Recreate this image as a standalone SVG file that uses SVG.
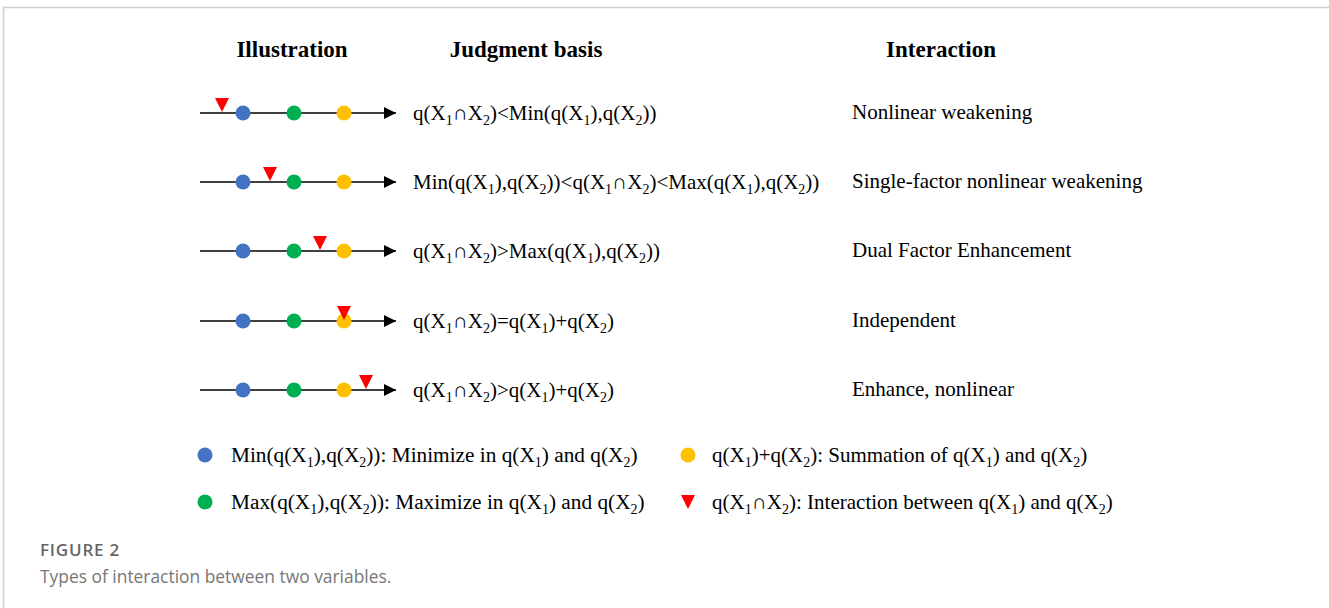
<svg xmlns="http://www.w3.org/2000/svg" width="1329" height="608" viewBox="0 0 1329 608">
<defs>
<marker id="arr" viewBox="0 0 12 12" refX="12" refY="6" markerWidth="12" markerHeight="12" markerUnits="userSpaceOnUse" orient="auto">
<path d="M0,0 L12,6 L0,12 Z" fill="#000"/>
</marker>
<polygon id="tri" points="-7,-14 7,-14 0,0" fill="#FF0000"/>
</defs>
<style>
.t{font-family:"Liberation Serif","Times New Roman",serif;font-size:21px;fill:#000}
.l{font-size:21.3px}
.h{font-family:"Liberation Serif","Times New Roman",serif;font-size:23px;font-weight:bold;fill:#000}
.s{font-size:14px}
.axis{stroke:#000;stroke-width:1.5;fill:none}
.b{fill:#4472C4}.g{fill:#00B050}.y{fill:#FFC000}
.cap1{font-family:"Open Sans","Lato",sans-serif;font-size:17px;font-weight:600;fill:#666;letter-spacing:0.8px}
.cap2{font-family:"Open Sans","Lato",sans-serif;font-size:17.4px;fill:#777}
</style>
<rect width="1329" height="608" fill="#fff"/>
<path d="M3.5,608 V7.5 H1329" fill="none" stroke="#d0d0d0" stroke-width="1.5"/>

<g id="headers">
<text class="h" x="292" y="57" text-anchor="middle">Illustration</text>
<text class="h" x="526" y="57" text-anchor="middle">Judgment basis</text>
<text class="h" x="941" y="57" text-anchor="middle">Interaction</text>
</g>

<g id="connectors">
<line class="axis" x1="200" y1="113" x2="396" y2="113" marker-end="url(#arr)"/>
<line class="axis" x1="200" y1="182" x2="396" y2="182" marker-end="url(#arr)"/>
<line class="axis" x1="200" y1="251" x2="396" y2="251" marker-end="url(#arr)"/>
<line class="axis" x1="200" y1="321" x2="396" y2="321" marker-end="url(#arr)"/>
<line class="axis" x1="200" y1="390" x2="396" y2="390" marker-end="url(#arr)"/>
</g>

<g id="row1">
<circle class="b" cx="243" cy="113" r="7.5"/><circle class="g" cx="294" cy="113" r="7.5"/><circle class="y" cx="344" cy="113" r="7.5"/>
<use href="#tri" x="222" y="112"/>
<text class="t" x="413" y="120">q(X<tspan class="s" dy="5">1</tspan><tspan dy="-5">∩X</tspan><tspan class="s" dy="5">2</tspan><tspan dy="-5">)&lt;Min(q(X</tspan><tspan class="s" dy="5">1</tspan><tspan dy="-5">),q(X</tspan><tspan class="s" dy="5">2</tspan><tspan dy="-5">))</tspan></text>
<text class="t" x="852" y="119">Nonlinear weakening</text>
</g>

<g id="row2">
<circle class="b" cx="243" cy="182" r="7.5"/><circle class="g" cx="294" cy="182" r="7.5"/><circle class="y" cx="344" cy="182" r="7.5"/>
<use href="#tri" x="270" y="181"/>
<text class="t" x="413" y="189">Min(q(X<tspan class="s" dy="5">1</tspan><tspan dy="-5">),q(X</tspan><tspan class="s" dy="5">2</tspan><tspan dy="-5">))&lt;q(X</tspan><tspan class="s" dy="5">1</tspan><tspan dy="-5">∩X</tspan><tspan class="s" dy="5">2</tspan><tspan dy="-5">)&lt;Max(q(X</tspan><tspan class="s" dy="5">1</tspan><tspan dy="-5">),q(X</tspan><tspan class="s" dy="5">2</tspan><tspan dy="-5">))</tspan></text>
<text class="t" x="852" y="188">Single-factor nonlinear weakening</text>
</g>

<g id="row3">
<circle class="b" cx="243" cy="251" r="7.5"/><circle class="g" cx="294" cy="251" r="7.5"/><circle class="y" cx="344" cy="251" r="7.5"/>
<use href="#tri" x="320" y="250"/>
<text class="t" x="413" y="258">q(X<tspan class="s" dy="5">1</tspan><tspan dy="-5">∩X</tspan><tspan class="s" dy="5">2</tspan><tspan dy="-5">)&gt;Max(q(X</tspan><tspan class="s" dy="5">1</tspan><tspan dy="-5">),q(X</tspan><tspan class="s" dy="5">2</tspan><tspan dy="-5">))</tspan></text>
<text class="t" x="852" y="257">Dual Factor Enhancement</text>
</g>

<g id="row4">
<circle class="b" cx="243" cy="321" r="7.5"/><circle class="g" cx="294" cy="321" r="7.5"/><circle class="y" cx="344" cy="321" r="7.5"/>
<use href="#tri" x="344" y="320"/>
<text class="t" x="413" y="328">q(X<tspan class="s" dy="5">1</tspan><tspan dy="-5">∩X</tspan><tspan class="s" dy="5">2</tspan><tspan dy="-5">)=q(X</tspan><tspan class="s" dy="5">1</tspan><tspan dy="-5">)+q(X</tspan><tspan class="s" dy="5">2</tspan><tspan dy="-5">)</tspan></text>
<text class="t" x="852" y="327">Independent</text>
</g>

<g id="row5">
<circle class="b" cx="243" cy="390" r="7.5"/><circle class="g" cx="294" cy="390" r="7.5"/><circle class="y" cx="344" cy="390" r="7.5"/>
<use href="#tri" x="366" y="389"/>
<text class="t" x="413" y="397">q(X<tspan class="s" dy="5">1</tspan><tspan dy="-5">∩X</tspan><tspan class="s" dy="5">2</tspan><tspan dy="-5">)&gt;q(X</tspan><tspan class="s" dy="5">1</tspan><tspan dy="-5">)+q(X</tspan><tspan class="s" dy="5">2</tspan><tspan dy="-5">)</tspan></text>
<text class="t" x="852" y="396">Enhance, nonlinear</text>
</g>

<g id="legend-min">
<circle class="b" cx="205" cy="455" r="7.5"/>
<text class="t l" x="231" y="462">Min(q(X<tspan class="s" dy="5">1</tspan><tspan dy="-5">),q(X</tspan><tspan class="s" dy="5">2</tspan><tspan dy="-5">)): Minimize in q(X</tspan><tspan class="s" dy="5">1</tspan><tspan dy="-5">) and q(X</tspan><tspan class="s" dy="5">2</tspan><tspan dy="-5">)</tspan></text>
</g>
<g id="legend-max">
<circle class="g" cx="205" cy="502" r="7.5"/>
<text class="t l" x="231" y="509">Max(q(X<tspan class="s" dy="5">1</tspan><tspan dy="-5">),q(X</tspan><tspan class="s" dy="5">2</tspan><tspan dy="-5">)): Maximize in q(X</tspan><tspan class="s" dy="5">1</tspan><tspan dy="-5">) and q(X</tspan><tspan class="s" dy="5">2</tspan><tspan dy="-5">)</tspan></text>
</g>
<g id="legend-sum">
<circle class="y" cx="688" cy="455" r="7.5"/>
<text class="t" x="712" y="462">q(X<tspan class="s" dy="5">1</tspan><tspan dy="-5">)+q(X</tspan><tspan class="s" dy="5">2</tspan><tspan dy="-5">): Summation of q(X</tspan><tspan class="s" dy="5">1</tspan><tspan dy="-5">) and q(X</tspan><tspan class="s" dy="5">2</tspan><tspan dy="-5">)</tspan></text>
</g>
<g id="legend-int">
<use href="#tri" x="688" y="509"/>
<text class="t" x="712" y="509">q(X<tspan class="s" dy="5">1</tspan><tspan dy="-5">∩X</tspan><tspan class="s" dy="5">2</tspan><tspan dy="-5">): Interaction between q(X</tspan><tspan class="s" dy="5">1</tspan><tspan dy="-5">) and q(X</tspan><tspan class="s" dy="5">2</tspan><tspan dy="-5">)</tspan></text>
</g>

<g id="caption">
<text class="cap1" x="40" y="556">FIGURE 2</text>
<text class="cap2" x="40" y="583">Types of interaction between two variables.</text>
</g>
</svg>
